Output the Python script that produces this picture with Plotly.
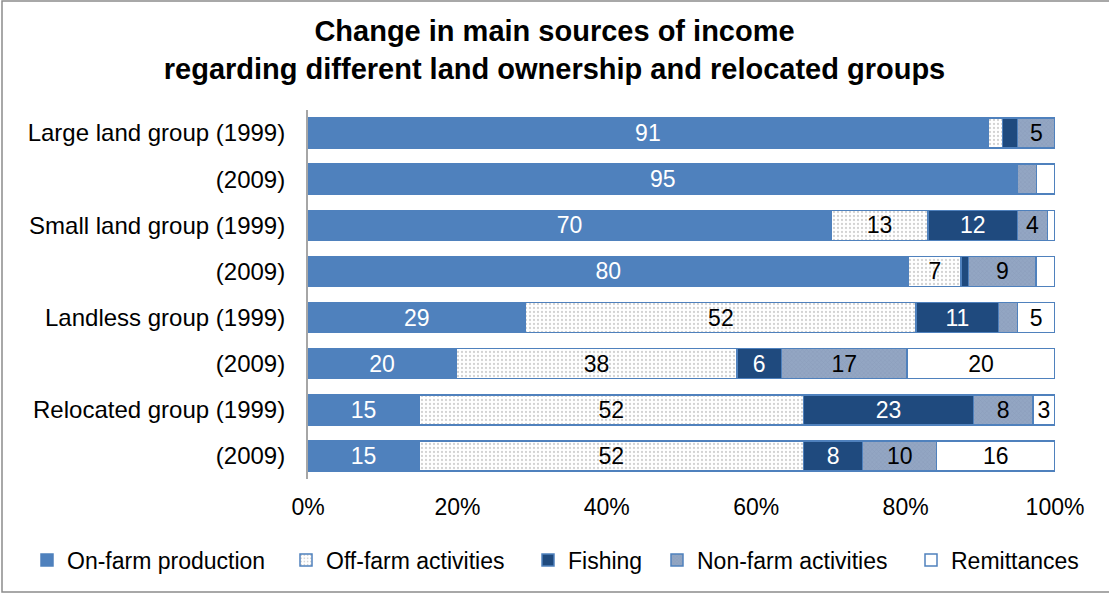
import plotly.graph_objects as go

categories = [
    "Large land group (1999)", "(2009)",
    "Small land group (1999)", "(2009)",
    "Landless group (1999)", "(2009)",
    "Relocated group (1999)", "(2009)",
]
series_names = ["On-farm production", "Off-farm activities", "Fishing",
                "Non-farm activities", "Remittances"]
on_farm = [91, 95, 70, 80, 29, 20, 15, 15]
off_farm = [2, 0, 13, 7, 52, 38, 52, 52]
fishing = [2, 0, 12, 1, 11, 6, 23, 8]
non_farm = [5, 2.5, 4, 9, 2.5, 17, 8, 10]
remittances = [0, 2.5, 1, 2.5, 5, 20, 3, 16]
x_ticks = [0, 20, 40, 60, 80, 100]

FONT = "Arial, 'Liberation Sans', sans-serif"
EDGE = "#4F81BD"
FS = 23

styles = [
    dict(color="#4F81BD", pattern=None, text="white", lw=214),
    dict(color="white", pattern=dict(shape=".", bgcolor="white", fgcolor="#A6A6A6", size=4, solidity=0.25), text="black", lw=197),
    dict(color="#1F4A7E", pattern=None, text="white", lw=84),
    dict(color="#8EA1BF", pattern=dict(shape="x", bgcolor="#93A6C3", fgcolor="#7F93B3", size=3, solidity=0.3), text="black", lw=209),
    dict(color="white", pattern=None, text="black", lw=None),
]

all_values = [on_farm, off_farm, fishing, non_farm, remittances]
ypos = list(range(len(categories)))

fig = go.Figure()
for name, vals, st in zip(series_names, all_values, styles):
    marker = dict(color=st["color"], line=dict(color=EDGE, width=1.5))
    if st["pattern"]:
        marker["pattern"] = st["pattern"]
    tr = go.Bar(
        name=name, y=ypos, x=vals, orientation="h", marker=marker,
        text=[(f"{v:g}" if v >= 3 else "") for v in vals],
        textposition="inside", insidetextanchor="middle", textangle=0,
        constraintext="none",
        textfont=dict(family=FONT, size=FS, color=st["text"]),
        width=0.65,
    )
    if st["lw"]:
        tr.legendwidth = st["lw"]
    fig.add_trace(tr)

fig.update_layout(
    barmode="stack", barnorm="percent",
    width=1109, height=594,
    paper_bgcolor="white", plot_bgcolor="white",
    margin=dict(l=308, r=54, t=110, b=115),
    font=dict(family=FONT, size=FS, color="black"),
    title=dict(
        text="<b>Change in main sources of income<br>regarding different land ownership and relocated groups</b>",
        x=0.5, xanchor="center", y=1 - 41 / 594, yanchor="middle", yref="container",
        font=dict(family=FONT, size=29, color="black"),
    ),
    xaxis=dict(range=[0, 100], tickvals=x_ticks, ticktext=[f"{t}%" for t in x_ticks],
               showgrid=False, zeroline=False, showline=False, ticks="",
               ticklabelstandoff=12, tickfont=dict(size=FS)),
    yaxis=dict(tickvals=ypos, ticktext=categories, range=[7.5, -0.5],
               showgrid=False, zeroline=False, showline=True, linecolor="#A6A6A6",
               linewidth=2, ticks="", ticklabelstandoff=16, tickfont=dict(size=24)),
    legend=dict(orientation="h", x=(27 - 308) / 747, xanchor="left", xref="paper",
                y=-(560 - 479) / 369, yanchor="middle", yref="paper",
                font=dict(family=FONT, size=23), itemwidth=30, traceorder="normal",
                tracegroupgap=0, bgcolor="rgba(0,0,0,0)"),
    shapes=[dict(type="rect", xref="paper", yref="paper",
                 x0=-306/747, x1=1051/747, y0=-113/369, y1=478/369,
                 line=dict(color="#8C8C8C", width=1.5), fillcolor="rgba(0,0,0,0)",
                 layer="below")],
)

fig.write_html("out.html", config={"displayModeBar": False},
               post_script="document.body.style.margin='0px';")
